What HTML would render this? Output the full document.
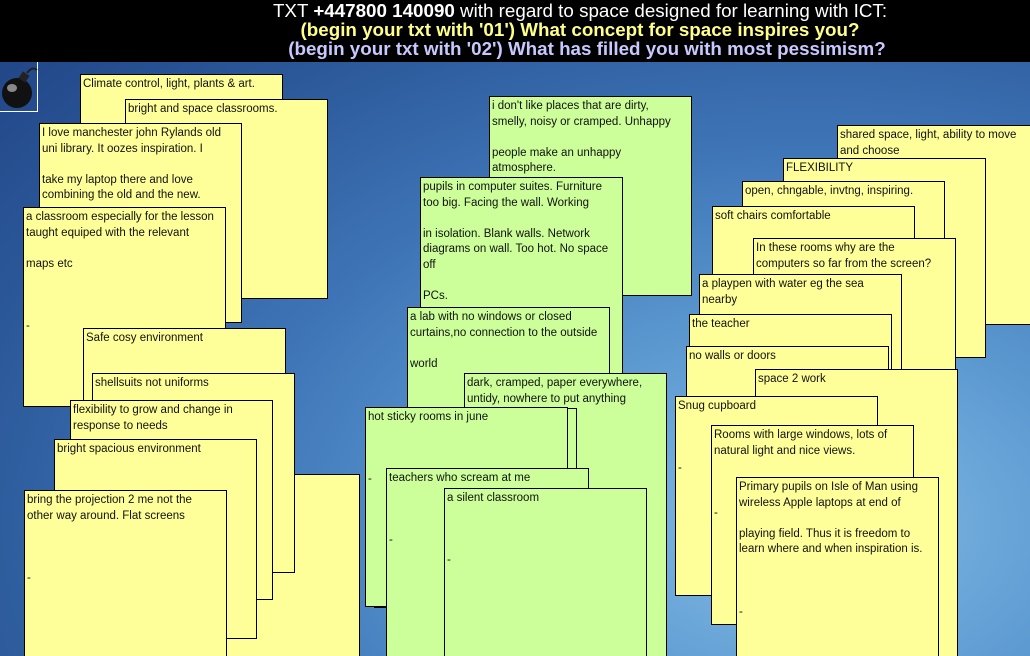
<!DOCTYPE html>
<html><head><meta charset="utf-8"><style>
html,body{margin:0;padding:0;width:1030px;height:656px;overflow:hidden}
#w{position:relative;width:1030px;height:656px;overflow:hidden;font-family:"Liberation Sans",Arial,sans-serif;
background:radial-gradient(ellipse at 78% 80%,#86bde6 0%,#5e9bd2 25%,#3f76b8 50%,#2b5899 75%,#1f4284 100%);}
#hdr{position:absolute;left:0;top:0;width:1030px;height:62px;background:#000;text-align:center;font-size:18.8px;line-height:19px;padding-top:1px;padding-left:130px;box-sizing:border-box}
#hdr div{white-space:nowrap}
.n{position:absolute;box-sizing:border-box;width:203px;height:200px;border:1px solid #000;background:#ffff99;font-size:11.5px;line-height:15.6px;color:#111;padding:2px 5px 0 2px;overflow:hidden}
.g{background:#ccff99}
</style></head><body><div id="w">
<div id="hdr">
<div style="color:#fff">TXT <b>+447800 140090</b> with regard to space designed for learning with ICT:</div>
<div style="color:#ffff88;font-weight:bold">(begin your txt with '01') What concept for space inspires you?</div>
<div style="color:#c8c8ff;font-weight:bold;padding-left:14px">(begin your txt with '02') What has filled you with most pessimism?</div>
</div>
<div style="position:absolute;left:0;top:62px;width:38px;height:50px;border-right:1px solid #fff;border-bottom:1px solid #fff;box-sizing:border-box"></div>
<svg style="position:absolute;left:0;top:62px" width="40" height="50"><circle cx="17" cy="31" r="15" fill="#111"/><ellipse cx="12" cy="26" rx="5" ry="4" fill="#888"/><rect x="20" y="11" width="8" height="8" fill="#222" transform="rotate(35 24 15)"/><path d="M27 11 Q32 4 37 8" stroke="#222" fill="none" stroke-width="2"/></svg>

<div class="n" style="left:80px;top:74px">Climate control, light, plants &amp; art.</div>
<div class="n" style="left:125px;top:99px">bright and space classrooms.</div>
<div class="n" style="left:39px;top:123px">I love manchester john Rylands old<br>uni library. It oozes inspiration. I<br><br>take my laptop there and love combining the old and the new.</div>
<div class="n" style="left:23px;top:207px">a classroom especially for the lesson<br>taught equiped with the relevant<br><br>maps etc<br><br><br><br>-</div>
<div class="n" style="left:83px;top:328px">Safe cosy environment<br><br><br><br><br>-</div>
<div class="n" style="left:157px;top:474px;height:190px"></div>
<div class="n" style="left:92px;top:373px">shellsuits not uniforms</div>
<div class="n" style="left:70px;top:400px">flexibility to grow and change in<br>response to needs</div>
<div class="n" style="left:54px;top:439px">bright spacious environment</div>
<div class="n" style="left:24px;top:490px;height:180px">bring the projection 2 me not the<br>other way around. Flat screens<br><br><br><br>-</div>

<div class="n g" style="left:489px;top:96px">i don't like places that are dirty,<br>smelly, noisy or cramped. Unhappy<br><br>people make an unhappy<br>atmosphere.</div>
<div class="n g" style="left:420px;top:177px">pupils in computer suites. Furniture<br>too big. Facing the wall. Working<br><br>in isolation. Blank walls. Network<br>diagrams on wall. Too hot. No space<br>off<br><br>PCs.</div>
<div class="n g" style="left:407px;top:307px">a lab with no windows or closed<br>curtains,no connection to the outside<br><br>world</div>
<div class="n g" style="left:464px;top:373px;height:290px">dark, cramped, paper everywhere,<br>untidy, nowhere to put anything</div>
<div class="n g" style="left:374px;top:408px"></div>
<div class="n g" style="left:365px;top:407px">hot sticky rooms in june<br><br><br><br>-</div>
<div class="n g" style="left:386px;top:468px;height:200px">teachers who scream at me<br><br><br><br>-</div>
<div class="n g" style="left:444px;top:488px;height:180px">a silent classroom<br><br><br><br>-</div>

<div class="n" style="left:837px;top:125px">shared space, light, ability to move<br>and choose</div>
<div class="n" style="left:783px;top:158px">FLEXIBILITY</div>
<div class="n" style="left:742px;top:181px">open, chngable, invtng, inspiring.</div>
<div class="n" style="left:712px;top:206px">soft chairs comfortable</div>
<div class="n" style="left:753px;top:238px">In these rooms why are the<br>computers so far from the screen?</div>
<div class="n" style="left:699px;top:274px">a playpen with water eg the sea<br>nearby</div>
<div class="n" style="left:689px;top:314px">the teacher</div>
<div class="n" style="left:686px;top:346px">no walls or doors</div>
<div class="n" style="left:755px;top:369px;height:300px">space 2 work</div>
<div class="n" style="left:675px;top:396px">Snug cupboard<br><br><br><br>-</div>
<div class="n" style="left:711px;top:425px">Rooms with large windows, lots of<br>natural light and nice views.<br><br><br><br>-</div>
<div class="n" style="left:736px;top:477px;height:190px">Primary pupils on Isle of Man using<br>wireless Apple laptops at end of<br><br>playing field. Thus it is freedom to<br>learn where and when inspiration is.<br><br><br><br>-</div>
</div></body></html>
